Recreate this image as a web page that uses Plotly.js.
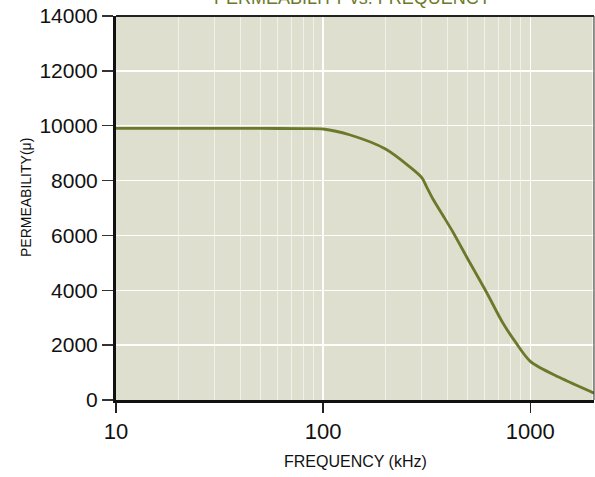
<!DOCTYPE html>
<html>
<head>
<meta charset="utf-8">
<script src="https://cdn.plot.ly/plotly-3.0.1.min.js"></script>
<style>
html,body{margin:0;padding:0;background:#fff;}
#chart{width:595px;height:477px;}
</style>
</head>
<body>
<div id="chart"></div>
<script>
const chartTitle = "PERMEABILITY vs. FREQUENCY";
const xTitle = "FREQUENCY (kHz)";
const yTitle = "PERMEABILITY(\u03bc)";
const frequency = [10, 20, 50, 80, 100, 134, 200, 260, 300, 315, 340, 385, 425, 500, 610, 735, 850, 1000, 1380, 2030];
const permeability = [9900, 9900, 9900, 9895, 9880, 9670, 9150, 8520, 8100, 7790, 7310, 6640, 6100, 5130, 3975, 2825, 2100, 1410, 825, 250];
const xTickVals = [10, 100, 1000];
const xTickText = ["10", "100", "1000"];
const yTickVals = [0, 2000, 4000, 6000, 8000, 10000, 12000, 14000];
const yTickText = ["0", "2000", "4000", "6000", "8000", "10000", "12000", "14000"];

const FONT = '"Liberation Sans", Arial, sans-serif';
const olive = '#6b7a2a';

const trace = {
  x: frequency, y: permeability, type: 'scatter', mode: 'lines',
  line: {color: olive, width: 2.8, shape: 'spline', smoothing: 0.8},
  hoverinfo: 'skip', cliponaxis: true
};

const layout = {
  width: 595, height: 477,
  margin: {l: 116, r: 1, t: 16, b: 77},
  paper_bgcolor: '#ffffff', plot_bgcolor: '#dfdfd0',
  showlegend: false,
  font: {family: FONT, color: '#111'},
  xaxis: {
    type: 'log', range: [1, Math.log10(2030)],
    tickvals: xTickVals, ticktext: xTickText,
    ticks: 'outside', ticklen: 10, tickwidth: 1.5, tickcolor: '#222',
    tickfont: {family: FONT, size: 22, color: '#111'},
    showgrid: true, gridcolor: '#ffffff', gridwidth: 1.5,
    minor: {dtick: 'D1', showgrid: true, gridcolor: 'rgba(255,255,255,0.55)', gridwidth: 1, ticks: ''},
    showline: true, linecolor: '#111', linewidth: 3,
    zeroline: false, fixedrange: true
  },
  yaxis: {
    range: [0, 14000], tickvals: yTickVals, ticktext: yTickText,
    ticks: 'outside', ticklen: 11, tickwidth: 1.5, tickcolor: '#333',
    tickfont: {family: FONT, size: 21, color: '#111'},
    showgrid: true, gridcolor: '#ffffff', gridwidth: 1.5,
    showline: true, linecolor: '#111', linewidth: 3,
    zeroline: false, fixedrange: true
  },
  shapes: [
    {type: 'line', xref: 'paper', yref: 'paper', x0: 0, x1: 1, y0: 1, y1: 1, line: {color: '#222', width: 2}},
    {type: 'line', xref: 'paper', yref: 'paper', x0: 1, x1: 1, y0: 0, y1: 1, line: {color: '#333', width: 1}}
  ],
  annotations: [
    {text: chartTitle, xref: 'paper', yref: 'paper', x: 0.495, y: 1, yshift: 6, xanchor: 'center', yanchor: 'bottom',
     showarrow: false, font: {family: FONT, size: 18, color: olive}},
    {text: xTitle, xref: 'paper', yref: 'paper', x: 0.5, y: 0, yshift: -61, xanchor: 'center', yanchor: 'middle',
     showarrow: false, font: {family: FONT, size: 16, color: '#111'}},
    {text: yTitle, xref: 'paper', yref: 'paper', x: 0, xshift: -90, y: 0.526, xanchor: 'center', yanchor: 'middle',
     textangle: -90, showarrow: false, font: {family: FONT, size: 14, color: '#111'}}
  ]
};

Plotly.newPlot('chart', [trace], layout, {staticPlot: true, displayModeBar: false});
</script>
</body>
</html>
